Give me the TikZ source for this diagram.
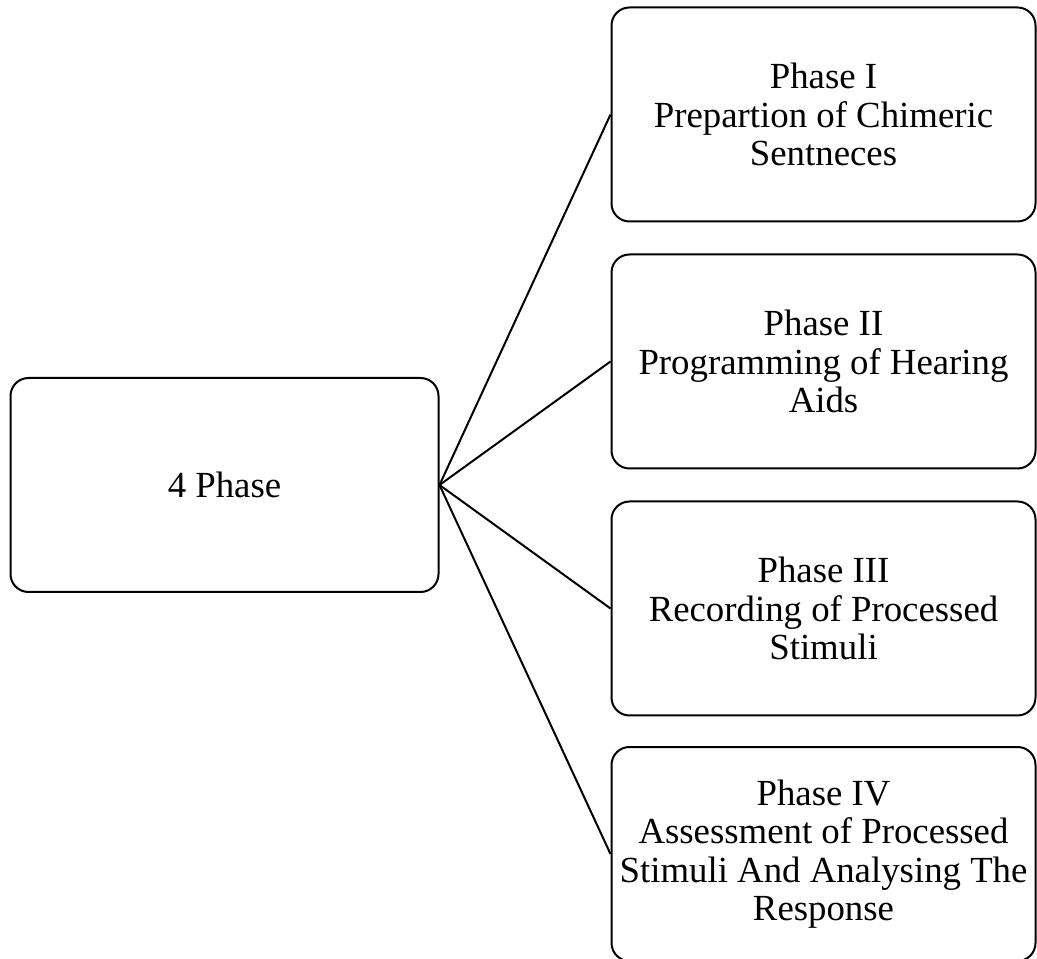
\documentclass[tikz,border=0pt]{standalone}
\usepackage{fontspec}
\setmainfont{Liberation Serif}
\usepackage{tikz}

\tikzset{
  phasebox/.style={draw, line width=1pt, rounded corners=9pt, align=center,
    minimum width=212pt, minimum height=107pt, inner sep=0pt,
    font=\fontsize{18.4}{19.25}\selectfont},
}

\begin{document}
\begin{tikzpicture}[x=0.5pt,y=0.5pt]
\useasboundingbox (0,0) rectangle (1037,958);

\node[phasebox, minimum width=214pt] (all) at (224.5,473) {4 Phase};

\node[phasebox] (one) at (823.5,843.5) {Phase I\\Prepartion of Chimeric\\Sentneces};
\node[phasebox] (two) at (823.5,596.5) {Phase II\\Programming of Hearing\\Aids};
\node[phasebox] (three) at (823.5,349.5) {Phase III\\Recording of Processed\\Stimuli};
\node[phasebox] (four) at (823.5,104) {Phase IV\\Assessment of Processed\\Stimuli And Analysing The\\Response};

\draw[line width=1pt] (all.east) -- (one.west);
\draw[line width=1pt] (all.east) -- (two.west);
\draw[line width=1pt] (all.east) -- (three.west);
\draw[line width=1pt] (all.east) -- (four.west);
\end{tikzpicture}
\end{document}
